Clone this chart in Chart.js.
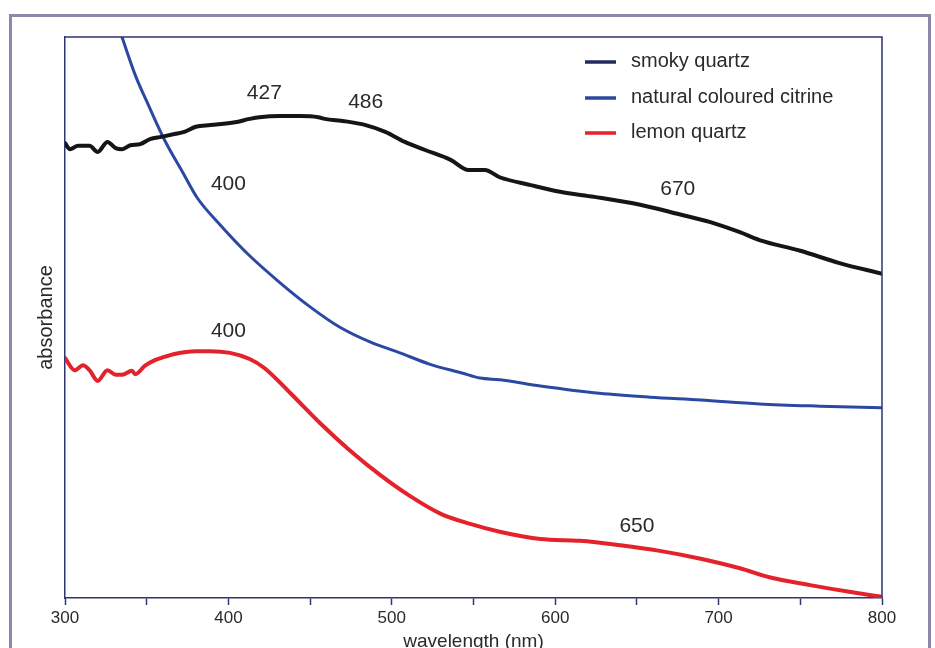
<!DOCTYPE html>
<html lang="en">
<head>
    <meta charset="UTF-8">
    <title>Quartz absorbance spectra</title>
    <script src="https://cdn.jsdelivr.net/npm/chart.js"></script>
    <style>
        html, body {
            margin: 0;
            padding: 0;
            background: #ffffff;
        }
        #wrap {
            width: 935px;
            height: 648px;
            position: relative;
        }
    </style>
</head>
<body>
    <div id="wrap">
        <canvas id="spectraChart" width="935" height="648"></canvas>
    </div>

    <script>
        // wavelength (nm) / absorbance (arbitrary units, 0-100)
        const smokyWl = [300, 303, 308, 315, 320, 326, 331, 335, 340, 346, 352, 359, 367, 373, 380, 389, 404, 413, 419, 432, 444, 455, 459, 471, 484, 496, 508, 520, 536, 547, 557, 566, 585, 603, 624, 652, 676, 695, 713, 725, 750, 774, 800];
        const smokyAbs = [81.1, 80.0, 80.6, 80.6, 79.5, 81.3, 80.2, 80.0, 80.7, 80.9, 81.8, 82.2, 82.7, 83.1, 84.0, 84.3, 84.8, 85.4, 85.7, 85.9, 85.9, 85.7, 85.4, 85.0, 84.3, 83.1, 81.3, 79.9, 78.1, 76.3, 76.3, 75.0, 73.6, 72.4, 71.5, 70.1, 68.4, 67.0, 65.2, 63.8, 61.9, 59.7, 57.8];

        const citrineWl = [332, 343, 351, 361, 372, 381, 395, 413, 432, 450, 468, 487, 505, 523, 543, 554, 566, 591, 627, 658, 689, 725, 762, 800];
        const citrineAbs = [102.5, 93.2, 87.9, 81.6, 75.9, 71.3, 66.5, 61.0, 56.1, 51.9, 48.3, 45.6, 43.7, 41.7, 40.1, 39.2, 38.9, 37.8, 36.5, 35.8, 35.3, 34.6, 34.2, 33.9];

        const lemonWl = [300, 306, 311, 315, 320, 326, 331, 335, 341, 343, 349, 355, 359, 367, 380, 389, 401, 413, 422, 438, 456, 474, 493, 511, 530, 548, 566, 591, 615, 640, 664, 689, 713, 731, 756, 780, 800];
        const lemonAbs = [42.8, 40.6, 41.5, 40.6, 38.7, 40.6, 39.8, 39.8, 40.5, 39.9, 41.4, 42.4, 42.8, 43.5, 44.0, 44.0, 43.7, 42.6, 41.0, 36.5, 31.2, 26.4, 21.9, 18.2, 15.0, 13.2, 11.8, 10.5, 10.2, 9.4, 8.4, 7.0, 5.3, 3.7, 2.3, 1.1, 0.2];

        const seriesNames = ['smoky quartz', 'natural coloured citrine', 'lemon quartz'];
        const lineColors = ['#151515', '#2b48a2', '#e3222c'];
        const legendColors = ['#232a5e', '#2b48a2', '#e3222c'];

        // peak labels: [text, wavelength, absorbance]
        const peakLabels = [
            ['427', 422, 90.0],
            ['486', 484, 88.4],
            ['400', 400, 73.8],
            ['670', 675, 72.9],
            ['400', 400, 47.6],
            ['650', 650, 12.8]
        ];

        const xTickLabels = [300, 400, 500, 600, 700, 800];

        const navy = '#2e3570';
        const textColor = '#2a2a2a';
        const fontFamily = "'Liberation Sans', Arial, sans-serif";

        function toPoints(xs, ys) {
            return xs.map((x, i) => ({ x: x, y: ys[i] }));
        }

        // frame, plot box, peak labels and legend
        const decorations = {
            id: 'decorations',
            beforeDraw(chart) {
                const ctx = chart.ctx;
                ctx.save();
                ctx.fillStyle = '#ffffff';
                ctx.fillRect(0, 0, chart.width, chart.height);
                ctx.strokeStyle = '#8d88aa';
                ctx.lineWidth = 3;
                ctx.strokeRect(10.5, 15.5, 919, 700);
                ctx.restore();
            },
            afterDraw(chart) {
                const ctx = chart.ctx;
                const area = chart.chartArea;
                const xs = chart.scales.x;
                const ys = chart.scales.y;
                ctx.save();
                ctx.strokeStyle = navy;
                ctx.lineWidth = 1.5;
                ctx.beginPath();
                ctx.moveTo(area.left, area.top);
                ctx.lineTo(area.right, area.top);
                ctx.lineTo(area.right, area.bottom);
                ctx.stroke();

                ctx.fillStyle = textColor;
                ctx.font = '21px ' + fontFamily;
                ctx.textAlign = 'center';
                ctx.textBaseline = 'middle';
                peakLabels.forEach(p => {
                    ctx.fillText(p[0], xs.getPixelForValue(p[1]), ys.getPixelForValue(p[2]));
                });

                // legend
                const rowsY = [62, 98, 133];
                ctx.font = '20px ' + fontFamily;
                ctx.textAlign = 'left';
                seriesNames.forEach((name, i) => {
                    ctx.strokeStyle = legendColors[i];
                    ctx.lineWidth = 3.5;
                    ctx.beginPath();
                    ctx.moveTo(585, rowsY[i]);
                    ctx.lineTo(616, rowsY[i]);
                    ctx.stroke();
                    ctx.fillStyle = textColor;
                    ctx.fillText(name, 631, rowsY[i] - 1);
                });
                ctx.restore();
            }
        };

        const ctx = document.getElementById('spectraChart').getContext('2d');
        new Chart(ctx, {
            type: 'line',
            data: {
                datasets: [
                    { label: seriesNames[0], data: toPoints(smokyWl, smokyAbs), borderColor: lineColors[0], borderWidth: 4 },
                    { label: seriesNames[1], data: toPoints(citrineWl, citrineAbs), borderColor: lineColors[1], borderWidth: 3 },
                    { label: seriesNames[2], data: toPoints(lemonWl, lemonAbs), borderColor: lineColors[2], borderWidth: 4 }
                ]
            },
            options: {
                responsive: false,
                animation: false,
                devicePixelRatio: 1,
                layout: { padding: { left: 32, right: 53, top: 37, bottom: 0 } },
                elements: {
                    point: { radius: 0 },
                    line: { tension: 0.35, cubicInterpolationMode: 'monotone', borderJoinStyle: 'round', borderCapStyle: 'round' }
                },
                plugins: {
                    legend: { display: false },
                    tooltip: { enabled: false }
                },
                scales: {
                    x: {
                        type: 'linear',
                        min: 300,
                        max: 800,
                        afterFit: s => { s.height = 50; },
                        border: { color: navy, width: 1.5 },
                        grid: { drawOnChartArea: false, drawTicks: true, tickLength: 7, color: navy, tickWidth: 1.5 },
                        ticks: {
                            stepSize: 50,
                            autoSkip: false,
                            maxRotation: 0,
                            padding: 3,
                            color: textColor,
                            font: { family: fontFamily, size: 17 },
                            callback: v => xTickLabels.includes(v) ? String(v) : ''
                        },
                        title: {
                            display: true,
                            text: 'wavelength (nm)',
                            color: textColor,
                            padding: { top: 0, bottom: -3 },
                            font: { family: fontFamily, size: 19, lineHeight: 1 }
                        }
                    },
                    y: {
                        min: 0,
                        max: 100,
                        afterFit: s => { s.width = 33; },
                        border: { color: navy, width: 1.5 },
                        grid: { display: false },
                        ticks: { display: false },
                        title: {
                            display: true,
                            text: 'absorbance',
                            color: textColor,
                            padding: { top: 4, bottom: 0 },
                            font: { family: fontFamily, size: 20, lineHeight: 1 }
                        }
                    }
                }
            },
            plugins: [decorations]
        });
    </script>
</body>
</html>
